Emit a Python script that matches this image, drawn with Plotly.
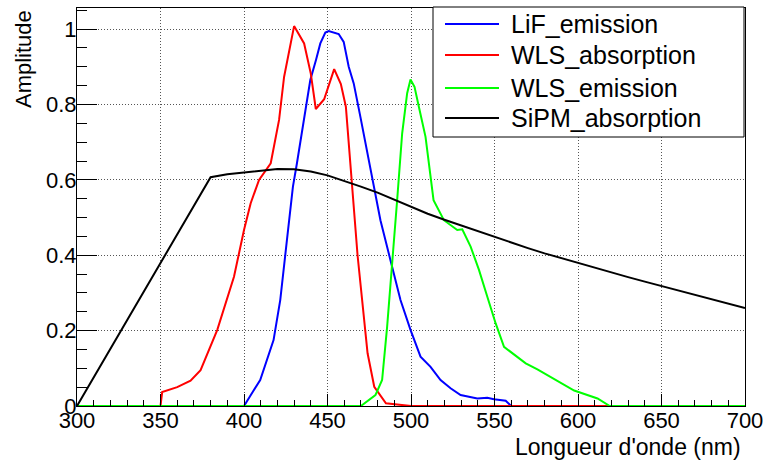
import plotly.graph_objects as go

# ---- data ----
lif_x = [400, 409.7, 417.7, 421.7, 425.7, 429.3, 431.7, 435.7, 439.7, 443.1, 445.7, 448.7, 450.7, 456.7,
         459.7, 462.7, 465.7, 469.7, 475.7, 481.7, 487.7, 493.7, 499.7, 505.7, 511.7, 517.7, 523.7,
         529.7, 539.7, 545.7, 549.7, 556.7, 560]
lif_y = [0, 0.069, 0.175, 0.281, 0.44, 0.582, 0.644, 0.75, 0.865, 0.918, 0.962, 0.991, 0.995, 0.987,
         0.966, 0.90, 0.856, 0.767, 0.626, 0.493, 0.387, 0.281, 0.202, 0.131, 0.104, 0.069, 0.047,
         0.029, 0.020, 0.022, 0.018, 0.014, 0]

wlsabs_x = [350, 351, 360, 368, 374, 384, 394, 400, 404, 409, 416, 421, 424, 430, 436, 440, 443, 448,
            454, 458, 461, 465, 468, 474, 478, 485, 500, 620]
wlsabs_y = [0, 0.037, 0.05, 0.067, 0.095, 0.202, 0.343, 0.467, 0.538, 0.600, 0.644, 0.759, 0.873, 1.008,
            0.962, 0.882, 0.788, 0.814, 0.894, 0.854, 0.794, 0.582, 0.40, 0.140, 0.051, 0.007, 0, 0]

wlsem_x = [300, 470, 478.7, 482.7, 485.7, 488.7, 491.7, 494.7, 497.7, 499.7, 502.1, 504.7, 508.7, 513.5,
           519.7, 527.7, 530.7, 535.7, 540.7, 545.7, 550.7, 555.7, 568.7, 575.7, 590.1, 597.7, 611.7,
           619, 700]
wlsem_y = [0, 0, 0.029, 0.069, 0.21, 0.37, 0.546, 0.723, 0.83, 0.866, 0.847, 0.794, 0.714, 0.546,
           0.493, 0.467, 0.469, 0.423, 0.361, 0.29, 0.219, 0.157, 0.113, 0.097, 0.06, 0.041, 0.020,
           0, 0]

sipm_x = [300, 380, 390, 400, 410, 420, 430, 440, 450, 460, 470, 480, 490, 500, 510, 520, 530, 540,
          550, 560, 570, 580, 590, 600, 610, 620, 630, 640, 650, 660, 670, 680, 690, 700]
sipm_y = [0, 0.607, 0.615, 0.62, 0.625, 0.629, 0.628, 0.622, 0.612, 0.598, 0.582, 0.566, 0.547, 0.528,
          0.51, 0.494, 0.479, 0.463, 0.447, 0.433, 0.419, 0.405, 0.392, 0.379, 0.366, 0.354, 0.342,
          0.330, 0.318, 0.306, 0.294, 0.282, 0.271, 0.26]

names = ["LiF_emission", "WLS_absorption", "WLS_emission", "SiPM_absorption"]
colors = ["#0000ff", "#ff0000", "#00ff00", "#000000"]
series = [(lif_x, lif_y), (wlsabs_x, wlsabs_y), (wlsem_x, wlsem_y), (sipm_x, sipm_y)]

FONT = "Liberation Sans, Arial, Helvetica, sans-serif"
W, H = 765, 460
L, R, T, B = 77, 745, 8, 406  # plot area in pixels

fig = go.Figure()
for (xs, ys), n, c in zip(series, names, colors):
    fig.add_trace(go.Scatter(x=xs, y=ys, mode="lines", name=n, showlegend=False,
                             line=dict(color=c, width=2)))

def px_to_paper(px, py):
    return (px - L) / (R - L), (B - py) / (B - T)

# manual ROOT-like legend
x0, y0 = px_to_paper(433, 7)
x1, y1 = px_to_paper(744, 137)
fig.add_shape(type="rect", xref="paper", yref="paper", x0=x0, y0=y1, x1=x1, y1=y0,
              line=dict(color="black", width=1), fillcolor="white", layer="above")
rows = [24, 55, 88, 118]
for n, c, ry in zip(names, colors, rows):
    lx0, ly = px_to_paper(445, ry)
    lx1, _ = px_to_paper(499, ry)
    fig.add_shape(type="line", xref="paper", yref="paper", x0=lx0, x1=lx1, y0=ly, y1=ly,
                  line=dict(color=c, width=2), layer="above")
    tx, _ = px_to_paper(509, ry)
    fig.add_annotation(xref="paper", yref="paper", x=tx, y=ly, text=n, showarrow=False,
                       xanchor="left", yanchor="middle", font=dict(family=FONT, size=25, color="black"))

fig.add_annotation(xref="paper", yref="paper", x=1, y=0, xanchor="right", yanchor="top",
                   yshift=-26, xshift=-2, text="Longueur d'onde (nm)", showarrow=False,
                   font=dict(family=FONT, size=23, color="black"))
fig.add_annotation(xref="paper", yref="paper", x=0, y=1, xanchor="center", yanchor="top",
                   xshift=-54, text="Amplitude", textangle=-90, showarrow=False,
                   font=dict(family=FONT, size=22, color="black"))

axis_common = dict(showline=True, linecolor="black", linewidth=1, mirror=True, automargin=False,
                   ticks="inside", tickcolor="black", showgrid=True, gridcolor="#555555",
                   gridwidth=1, griddash="1px,2px", zeroline=False,
                   tickfont=dict(family=FONT, size=22, color="black"))

fig.update_xaxes(range=[300, 700], dtick=50, tick0=300, ticklen=12, ticklabelstandoff=-5,
                 minor=dict(dtick=10, ticklen=6, ticks="inside", tickcolor="black", showgrid=False),
                 **axis_common)
fig.update_yaxes(range=[0, 1.056], dtick=0.2, tick0=0, ticklen=20, ticklabelstandoff=-5,
                 minor=dict(dtick=0.05, ticklen=10, ticks="inside", tickcolor="black", showgrid=False),
                 **axis_common)

fig.update_layout(width=W, height=H, margin=dict(l=L, r=W - R, t=T, b=H - B, autoexpand=False),
                  paper_bgcolor="white", plot_bgcolor="white",
                  font=dict(family=FONT, color="black"))

fig.write_html("out.html", config={"displayModeBar": False},
               post_script="document.body.style.margin='0';document.body.style.overflow='hidden';")
